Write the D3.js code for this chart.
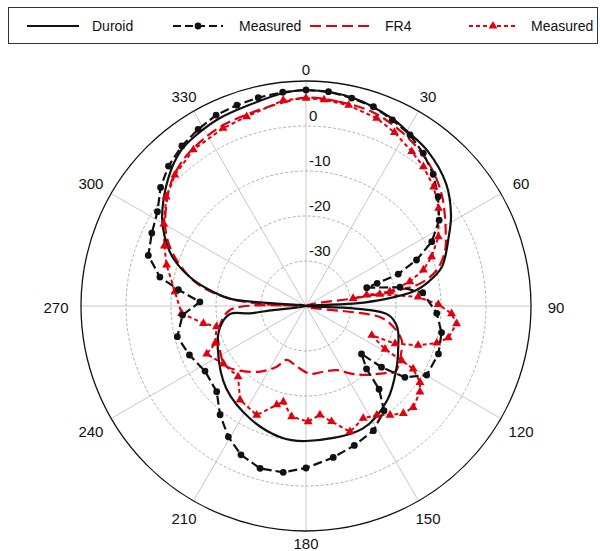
<!DOCTYPE html>
<html>
<head>
<meta charset="utf-8">
<script src="https://cdn.jsdelivr.net/npm/d3@7"></script>
<style>
  body { margin: 0; background: #fff; }
  svg { display: block; }
  text { font-family: "Liberation Sans", Arial, sans-serif; fill: #111; }
</style>
</head>
<body>
<svg id="chart" width="600" height="551"></svg>
<script>
// Angular ticks (degrees, clockwise from top) and radial gain ticks (dB)
const angleTicks = [0, 30, 60, 90, 120, 150, 180, 210, 240, 270, 300, 330];
const gainTicks = [-30, -20, -10, 0];
const gainDomain = [-40, 10];

// Simulated Duroid pattern
const duroidAngle = [0, 13, 25, 30, 38, 49, 58, 64, 74, 79, 82, 85, 87, 90, 93, 96, 103, 115, 125, 139, 155, 180, 191, 206, 224, 244, 256, 264, 262.5, 263, 270, 274.4, 275.5, 280, 284, 290, 296, 302, 313, 321, 327, 335, 344, 354];
const duroidGain  = [8, 7.4, 5.8, 4.9, 3.8, 1.3, -2, -4.7, -8.6, -12.4, -15.5, -22.4, -29, -40, -29, -21.7, -19.2, -17.4, -15.5, -12.4, -10, -10, -10.3, -12, -14.5, -18.2, -20.3, -23, -27.4, -32.6, -40, -30.4, -23, -17.6, -13.4, -8.5, -5.1, -2.3, 1.8, 4.3, 5.1, 5.9, 6.4, 7.6];

// Measured Duroid pattern
const measDuroidAngle = [0, 6, 12.4, 18.7, 24.9, 31.3, 37.5, 44, 50.4, 57.2, 62.9, 67.4, 70.9, 72.3, 73.2, 78.7, 83.5, 93.2, 101.1, 109.9, 119.8, 125.8, 129, 130.8, 136.1, 138.7, 143.3, 151.6, 160.9, 169.8, 180, 187.8, 195.8, 203.6, 210.7, 218.3, 226.2, 237.2, 247.2, 256.6, 265.8, 272.2, 277.3, 281.2, 287.8, 295.3, 302.4, 309.2, 315.5, 322.2, 328.6, 334.8, 341, 347.1, 353.8];
const measDuroidGain  = [8, 7.9, 7.3, 6.75, 5.6, 4.5, 2.8, 0.7, -1.9, -4.8, -8.6, -13.4, -18.3, -23.4, -25.9, -18.7, -13.9, -10.9, -9.3, -8.7, -9.1, -12.9, -18.4, -23.7, -20.6, -15.4, -11, -8.5, -7.2, -5.8, -4, -2.7, -2.5, -3.9, -6.2, -9.2, -12.5, -13.3, -11.9, -10.6, -12.5, -16.4, -11.4, -6.9, -3.2, -2.1, -0.9, 1.7, 3.6, 5, 6, 6.9, 7.2, 7.5, 7.8];

// Simulated FR4 pattern
const fr4Angle = [0, 9, 18.7, 26.4, 34.1, 42.4, 50.7, 57.3, 62.5, 68.2, 74.7, 78.9, 80.3, 80.7, 81, 88, 98.5, 103.5, 109.7, 114.7, 126.4, 131, 140.3, 146.8, 154.4, 165.2, 176.6, 188.7, 199.7, 205.8, 215, 227.3, 233.9, 242.9, 253.7, 267, 270, 272.5, 274.7, 278.4, 282.8, 289.5, 296.3, 302.3, 311.7, 319.3, 327.2, 335.4, 343.8, 352.7];
const fr4Gain  = [6.3, 6, 5.6, 4.5, 3.2, 1.4, -1, -3.3, -5, -6.7, -9.9, -14.2, -19.2, -25.2, -29, -40, -23.4, -20, -17.4, -16.6, -15.4, -17.2, -20.1, -22.1, -24.2, -24.9, -24.9, -26.4, -27.3, -25, -22.2, -19, -17.7, -18.5, -19.7, -23.1, -40, -31.3, -24.6, -18.8, -14.3, -9.5, -5.5, -3, 0.4, 2.3, 3.4, 4.2, 4.6, 5.4];

// Measured FR4 pattern
const measFr4Angle = [0, 5, 12, 20.6, 27, 34.4, 40.1, 47, 53.6, 62.4, 68.6, 72.9, 76.8, 80.3, 79.7, 80.8, 81, 85.4, 89.3, 93, 96.7, 102.6, 105.8, 109.3, 112.9, 114, 118.6, 119.7, 120.4, 123.8, 127, 133.4, 137.8, 142.4, 147, 153, 160.7, 167.5, 172.7, 178.9, 187.4, 193.3, 196.5, 204.3, 215.1, 223.8, 234.9, 244.2, 247.7, 257, 260.4, 266.6, 276.2, 286.4, 293, 300, 308, 315, 324.2, 335, 342.6, 353.7];
const measFr4Gain  = [6.2, 6, 5.6, 4.6, 3.3, 1.6, 0.5, -1.2, -3.4, -6.8, -10, -12.7, -16.3, -21.1, -26.3, -29.4, -23.4, -15, -10.6, -7.6, -6.3, -7.6, -9.8, -13.6, -18.5, -24, -20, -15.5, -12.4, -9.5, -8.3, -7.2, -7.8, -9.4, -11.1, -12, -10.4, -13.7, -15.6, -14.3, -15.2, -18.1, -17.1, -13.4, -14.5, -18.2, -17.6, -15.5, -18.2, -19.6, -16.9, -12.3, -10.7, -7.7, -5.8, -3.5, -0.6, 1.2, 2.8, 3.6, 4.1, 6];

const legendLabels = ["Duroid", "Measured", "FR4", "Measured"];

const RED = "#e0000e";
const cx = 306, cy = 306, outerR = 225;

const svg = d3.select("#chart");
const r = d3.scaleLinear().domain(gainDomain).range([0, outerR]).clamp(true);
const rad = d => d * Math.PI / 180;

const g = svg.append("g").attr("transform", `translate(${cx},${cy})`);

// Spokes every 30 degrees
g.selectAll("line.spoke").data(angleTicks).join("line")
  .attr("class", "spoke")
  .attr("x1", 0).attr("y1", 0)
  .attr("x2", d => d3.pointRadial(rad(d), outerR)[0])
  .attr("y2", d => d3.pointRadial(rad(d), outerR)[1])
  .attr("stroke", "#c8c8c8").attr("stroke-width", 1);

// Dashed gain rings
g.selectAll("circle.ring").data(gainTicks).join("circle")
  .attr("class", "ring")
  .attr("r", d => r(d))
  .attr("fill", "none").attr("stroke", "#b0b0b0")
  .attr("stroke-width", 1).attr("stroke-dasharray", "3,2");

// Outer boundary
g.append("circle").attr("r", outerR)
  .attr("fill", "none").attr("stroke", "#111").attr("stroke-width", 1.3);

// Gain labels along the 0-degree spoke
g.selectAll("text.gain").data(gainTicks).join("text")
  .attr("class", "gain")
  .attr("x", 3).attr("y", d => -r(d) - 5)
  .attr("font-size", 15)
  .text(d => d);

// Angle labels, centred just outside the boundary
const labelR = d => 238 + 12 * Math.abs(Math.sin(rad(d)));
g.selectAll("text.ang").data(angleTicks).join("text")
  .attr("class", "ang")
  .attr("font-size", 15)
  .attr("text-anchor", "middle")
  .attr("dominant-baseline", "central")
  .attr("x", d => d3.pointRadial(rad(d), labelR(d))[0])
  .attr("y", d => Math.min(d3.pointRadial(rad(d), labelR(d))[1] + 1.5, 237))
  .text(d => d);

const zip = (a, v) => a.map((d, i) => ({ a: d, v: v[i] }));
const duroid = zip(duroidAngle, duroidGain);
const measDuroid = zip(measDuroidAngle, measDuroidGain);
const fr4 = zip(fr4Angle, fr4Gain);
const measFr4 = zip(measFr4Angle, measFr4Gain);

const lineSmooth = d3.lineRadial()
  .angle(d => rad(d.a)).radius(d => r(d.v))
  .curve(d3.curveCatmullRomClosed.alpha(0.5));
const lineStraight = d3.lineRadial()
  .angle(d => rad(d.a)).radius(d => r(d.v))
  .curve(d3.curveLinearClosed);

const traces = g.append("g").attr("fill", "none");

traces.append("path").datum(fr4)
  .attr("d", lineSmooth)
  .attr("stroke", RED).attr("stroke-width", 2.2)
  .attr("stroke-dasharray", "11,5");

traces.append("path").datum(measFr4)
  .attr("d", lineStraight)
  .attr("stroke", RED).attr("stroke-width", 2)
  .attr("stroke-dasharray", "4,3");

traces.append("path").datum(duroid)
  .attr("d", lineSmooth)
  .attr("stroke", "#111").attr("stroke-width", 2.2);

traces.append("path").datum(measDuroid)
  .attr("d", lineStraight)
  .attr("stroke", "#111").attr("stroke-width", 2.2)
  .attr("stroke-dasharray", "9,4");

// Markers
const tri = d3.symbol().type(d3.symbolTriangle).size(34);
g.append("g").selectAll("path").data(measFr4).join("path")
  .attr("d", tri)
  .attr("transform", d => `translate(${d3.pointRadial(rad(d.a), r(d.v))})`)
  .attr("fill", RED);

g.append("g").selectAll("circle").data(measDuroid).join("circle")
  .attr("cx", d => d3.pointRadial(rad(d.a), r(d.v))[0])
  .attr("cy", d => d3.pointRadial(rad(d.a), r(d.v))[1])
  .attr("r", 3.4).attr("fill", "#111");

// Legend
const lg = svg.append("g");
lg.append("rect").attr("x", 8.5).attr("y", 7.5).attr("width", 589).attr("height", 36)
  .attr("fill", "#fff").attr("stroke", "#333").attr("stroke-width", 1);
const ly = 26;
const items = [
  { x1: 27, x2: 79, tx: 92, color: "#111", dash: null, mark: null },
  { x1: 173, x2: 223, tx: 239, color: "#111", dash: "8,4", mark: "circle" },
  { x1: 310, x2: 369, tx: 385, color: RED, dash: "11,5", mark: null },
  { x1: 469, x2: 517, tx: 531, color: RED, dash: "4,3", mark: "tri" }
];
items.forEach((it, i) => {
  lg.append("line").attr("x1", it.x1).attr("x2", it.x2).attr("y1", ly).attr("y2", ly)
    .attr("stroke", it.color).attr("stroke-width", 2.2)
    .attr("stroke-dasharray", it.dash);
  const mx = (it.x1 + it.x2) / 2;
  if (it.mark === "circle") lg.append("circle").attr("cx", mx).attr("cy", ly).attr("r", 3.4).attr("fill", it.color);
  if (it.mark === "tri") lg.append("path").attr("d", tri()).attr("transform", `translate(${mx},${ly})`).attr("fill", it.color);
  lg.append("text").attr("x", it.tx).attr("y", ly).attr("dominant-baseline", "central")
    .attr("font-size", 14).text(legendLabels[i]);
});
</script>
</body>
</html>
